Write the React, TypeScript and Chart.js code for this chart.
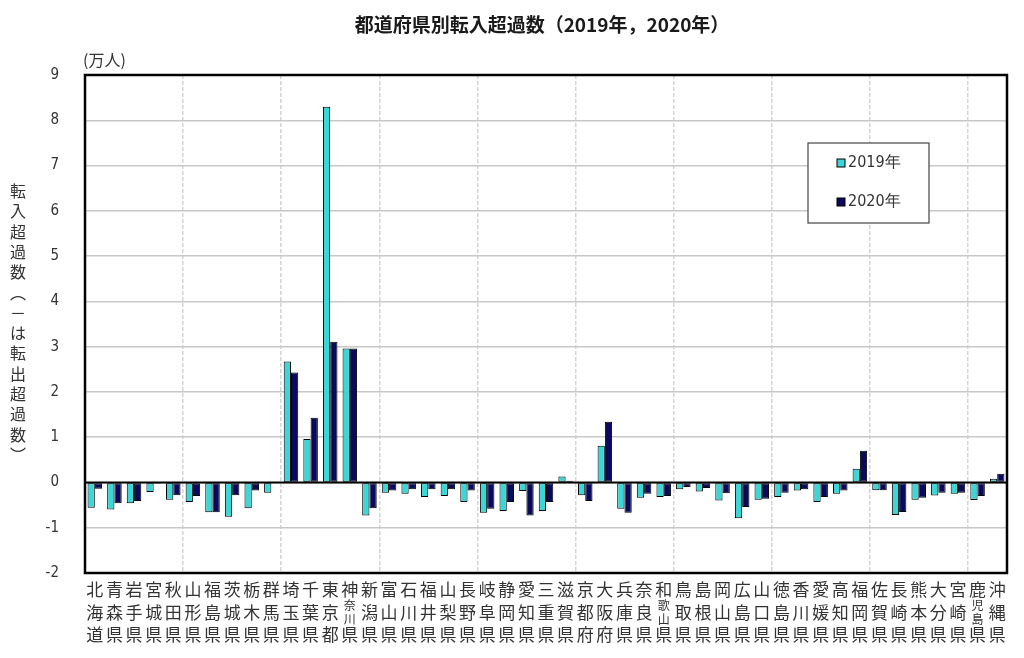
import React, { useEffect, useRef } from "react";
import { Chart, registerables } from "chart.js";

Chart.register(...registerables);

const titleText = "都道府県別転入超過数（2019年，2020年）";
const unitText = "(万人)";
const yTitleChars = ["転", "入", "超", "過", "数", "︵", "－", "は", "転", "出", "超", "過", "数", "︶"];

const prefectures = [
  "北海道", "青森県", "岩手県", "宮城県", "秋田県", "山形県", "福島県", "茨城県", "栃木県", "群馬県",
  "埼玉県", "千葉県", "東京都", "神奈川県", "新潟県", "富山県", "石川県", "福井県", "山梨県", "長野県",
  "岐阜県", "静岡県", "愛知県", "三重県", "滋賀県", "京都府", "大阪府", "兵庫県", "奈良県", "和歌山県",
  "鳥取県", "島根県", "岡山県", "広島県", "山口県", "徳島県", "香川県", "愛媛県", "高知県", "福岡県",
  "佐賀県", "長崎県", "熊本県", "大分県", "宮崎県", "鹿児島県", "沖縄県",
];

const values2019 = [
  -0.56, -0.60, -0.46, -0.21, -0.38, -0.43, -0.66, -0.76, -0.57, -0.23,
  2.67, 0.96, 8.30, 2.96, -0.73, -0.23, -0.25, -0.32, -0.30, -0.43,
  -0.67, -0.63, -0.19, -0.63, 0.13, -0.28, 0.81, -0.58, -0.34, -0.32,
  -0.15, -0.20, -0.40, -0.79, -0.38, -0.32, -0.18, -0.43, -0.25, 0.30,
  -0.17, -0.72, -0.38, -0.29, -0.25, -0.39, 0.08,
];

const values2020 = [
  -0.14, -0.46, -0.41, -0.03, -0.28, -0.30, -0.66, -0.28, -0.18, -0.02,
  2.43, 1.43, 3.11, 2.96, -0.57, -0.18, -0.15, -0.15, -0.15, -0.18,
  -0.58, -0.43, -0.73, -0.43, 0.04, -0.41, 1.34, -0.67, -0.25, -0.30,
  -0.10, -0.12, -0.24, -0.54, -0.36, -0.23, -0.15, -0.32, -0.18, 0.70,
  -0.17, -0.65, -0.34, -0.23, -0.23, -0.30, 0.19,
];

const seriesLabels = ["2019年", "2020年"];
const seriesColors = ["#3CD6D6", "#0A0A5C"];
const yMin = -2;
const yMax = 9;

const JP_FONT = "'Noto Sans CJK JP', 'Noto Sans', sans-serif";
const NUM_FONT = "'Liberation Sans Narrow', 'DejaVu Sans Condensed', 'Liberation Sans', sans-serif";

const decorPlugin = {
  id: "decor",
  beforeDatasetsDraw(chart: any) {
    const { ctx } = chart;
    const yScale = chart.scales.y;
    const area = chart.chartArea;
    const y0 = yScale.getPixelForValue(0);
    ctx.save();
    ctx.strokeStyle = "#000";
    ctx.lineWidth = 2;
    ctx.beginPath();
    ctx.moveTo(area.left, y0);
    ctx.lineTo(area.right, y0);
    ctx.stroke();
    ctx.restore();
  },
  afterDraw(chart: any) {
    const { ctx } = chart;
    const area = chart.chartArea;
    const xScale = chart.scales.x;
    ctx.save();

    // frame
    ctx.strokeStyle = "#000";
    ctx.lineWidth = 2.5;
    ctx.strokeRect(area.left, area.top, area.right - area.left, area.bottom - area.top);

    // title
    ctx.fillStyle = "#1a1a1a";
    ctx.font = `bold 19px ${JP_FONT}`;
    ctx.textAlign = "center";
    ctx.textBaseline = "middle";
    ctx.fillText(titleText, 542, 25);

    // unit
    ctx.font = `16px ${JP_FONT}`;
    ctx.fillStyle = "#333";
    ctx.textAlign = "left";
    ctx.fillText(unitText, area.left - 2, area.top - 15);

    // y axis title (vertical)
    ctx.font = `16px ${JP_FONT}`;
    ctx.textAlign = "center";
    yTitleChars.forEach((c, i) => {
      ctx.fillText(c, 18, 191 + i * 20.3);
    });

    // x labels (vertical, 3 rows)
    ctx.fillStyle = "#333";
    prefectures.forEach((name, i) => {
      const x = xScale.getPixelForValue(i);
      const first = name[0];
      const last = name[name.length - 1];
      const mid = name.slice(1, -1);
      ctx.font = `17px ${JP_FONT}`;
      ctx.fillText(first, x, area.bottom + 17);
      ctx.fillText(last, x, area.bottom + 62);
      if (mid.length === 1) {
        ctx.fillText(mid, x, area.bottom + 40);
      } else {
        ctx.font = `12px ${JP_FONT}`;
        ctx.fillText(mid[0], x, area.bottom + 32);
        ctx.fillText(mid[1], x, area.bottom + 46);
      }
    });

    // legend
    const lx = area.right - 199;
    const ly = area.top + 68;
    ctx.fillStyle = "#fff";
    ctx.fillRect(lx, ly, 121, 80);
    ctx.strokeStyle = "#444";
    ctx.lineWidth = 1.2;
    ctx.strokeRect(lx, ly, 121, 80);
    chart.data.datasets.forEach((ds: any, i: number) => {
      const cy = ly + 20 + i * 39;
      ctx.fillStyle = ds.backgroundColor;
      ctx.fillRect(lx + 29, cy - 4, 8, 8);
      ctx.strokeStyle = "#000";
      ctx.lineWidth = 1;
      ctx.strokeRect(lx + 29, cy - 4, 8, 8);
      ctx.fillStyle = "#333";
      ctx.font = `16px ${NUM_FONT}`;
      ctx.textAlign = "left";
      ctx.fillText(ds.label, lx + 40, cy);
    });

    ctx.restore();
  },
};

export default function App() {
  const canvasRef = useRef<HTMLCanvasElement | null>(null);

  useEffect(() => {
    if (!canvasRef.current) return;
    const chart = new Chart(canvasRef.current, {
      type: "bar",
      data: {
        labels: prefectures,
        datasets: [
          {
            label: seriesLabels[0],
            data: values2019,
            backgroundColor: seriesColors[0],
            borderColor: "#000",
            borderWidth: 1,
            borderSkipped: false,
            categoryPercentage: 0.74,
            barPercentage: 1.0,
          },
          {
            label: seriesLabels[1],
            data: values2020,
            backgroundColor: seriesColors[1],
            borderColor: "#000",
            borderWidth: 1,
            borderSkipped: false,
            categoryPercentage: 0.74,
            barPercentage: 1.0,
          },
        ],
      },
      options: {
        animation: false,
        responsive: false,
        layout: { padding: { top: 75, right: 17, bottom: 85, left: 0 } },
        plugins: {
          legend: { display: false },
          title: { display: false },
          tooltip: { enabled: false },
        },
        scales: {
          x: {
            ticks: { display: false },
            grid: {
              offset: true,
              drawTicks: false,
              color: (c: any) => (c.index % 5 === 0 && c.index > 0 ? "#d4d4d4" : "transparent"),
              lineWidth: 1.5,
            },
            border: { display: false, dash: [4, 2] },
            afterFit: (s: any) => {
              s.height = 0;
            },
          },
          y: {
            min: yMin,
            max: yMax,
            ticks: {
              stepSize: 1,
              padding: 26,
              color: "#333",
              font: { family: NUM_FONT, size: 15 },
            },
            grid: {
              drawTicks: false,
              color: "#c8c8c8",
              lineWidth: 1.5,
            },
            border: { display: false },
            afterFit: (s: any) => {
              s.width = 85;
            },
          },
        },
      },
      plugins: [decorPlugin],
    });
    return () => chart.destroy();
  }, []);

  return (
    <div style={{ position: "fixed", left: 0, top: 0, width: 1024, height: 658, background: "#fff" }}>
      <canvas ref={canvasRef} width={1024} height={658} />
    </div>
  );
}
